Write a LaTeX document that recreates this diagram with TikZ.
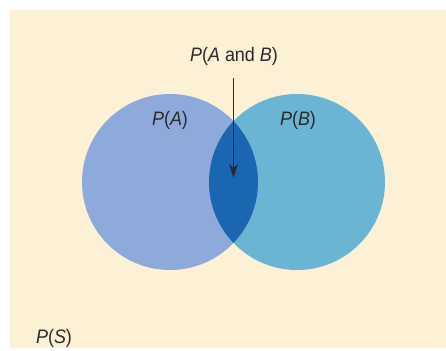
\documentclass[tikz,border=0pt]{standalone}
\usepackage{fontspec}
\setmainfont{Liberation Sans}[FakeStretch=0.92]
\usetikzlibrary{arrows.meta}
\definecolor{bgcream}{HTML}{FDF1D5}
\definecolor{circA}{HTML}{8DAADA}
\definecolor{circB}{HTML}{6AB4D4}
\definecolor{lens}{HTML}{1A66B0}
\definecolor{ink}{HTML}{2B2B2B}
\tikzset{
  lbl/.style={font=\fontsize{19.5}{22}\selectfont, text=ink, inner sep=0pt},
  pointer/.style={draw=ink, line width=1.3pt, -{Stealth[length=14pt,width=9pt,inset=4pt]}}
}
\begin{document}
\begin{tikzpicture}[x=1pt,y=-1pt]
\useasboundingbox (0,0) rectangle (446,350);
\fill[white] (0,0) rectangle (446,350);
\fill[bgcream] (10,10) rectangle (446,348);
\coordinate (ca) at (170,182);
\coordinate (cb) at (297,182);
\fill[circA] (ca) circle[radius=88];
\fill[circB] (cb) circle[radius=88];
\begin{scope}
  \clip (ca) circle[radius=88];
  \fill[lens] (cb) circle[radius=88];
\end{scope}
\node[lbl] (pab) at (234,56) {\textit{P}(\textit{A} and \textit{B})};
\node[lbl] (pa) at (170,120) {\textit{P}(\textit{A})};
\node[lbl] (pb) at (298,120) {\textit{P}(\textit{B})};
\node[lbl] (ps) at (54,338) {\textit{P}(\textit{S})};
\coordinate (start) at (233.5,78);
\coordinate (tip) at (233.5,178);
\draw[pointer] (start) -- (tip);
\end{tikzpicture}
\end{document}
